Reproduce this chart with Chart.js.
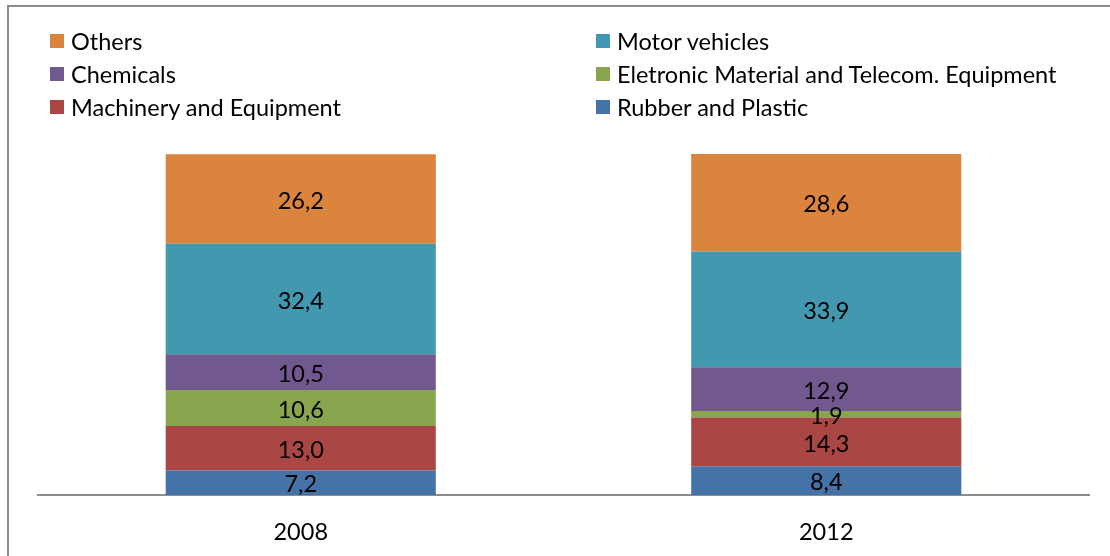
<!DOCTYPE html>
<html>
<head>
<meta charset="utf-8">
<script src="https://cdn.jsdelivr.net/npm/chart.js@4"></script>
<style>
  body { margin: 0; background: #fff; }
  #wrap { position: relative; width: 1110px; height: 556px; overflow: hidden; font-family: Lato, sans-serif; }
  #frame { position: absolute; left: 7px; top: 5px; width: 1200px; height: 700px; border-left: 2px solid #8c8c8c; border-top: 2px solid #8c8c8c; }
  #chartBox { position: absolute; left: 0; top: 0; width: 1110px; height: 556px; }
  #legend { position: absolute; left: 50px; top: 24px; display: grid; grid-template-columns: 546px 460px; grid-auto-rows: 33.3px; }
  .item { display: flex; align-items: center; font-size: 23.5px; color: #000; white-space: nowrap; }
  .sw { width: 14px; height: 14px; margin-right: 7px; flex: none; }
</style>
</head>
<body>
<div id="wrap">
  <div id="frame"></div>
  <div id="chartBox"><canvas id="chart"></canvas></div>
  <div id="legend"></div>
</div>
<script>
const years = ["2008", "2012"];

// stacked from the bottom up
const seriesNames = [
  "Rubber and Plastic",
  "Machinery and Equipment",
  "Eletronic Material and Telecom. Equipment",
  "Chemicals",
  "Motor vehicles",
  "Others"
];
const rubber = [7.2, 8.4];
const machinery = [13.0, 14.3];
const electronic = [10.6, 1.9];
const chemicals = [10.5, 12.9];
const motor = [32.4, 33.9];
const others = [26.2, 28.6];

const colors = ["#4572A7", "#AA4643", "#89A54E", "#71588F", "#4198AF", "#DB843D"];
const values = [rubber, machinery, electronic, chemicals, motor, others];

const FONT = "Lato, sans-serif";

// value labels in the middle of each segment, decimal comma
const segmentLabels = {
  id: "segmentLabels",
  afterDatasetsDraw(chart) {
    const ctx = chart.ctx;
    ctx.save();
    ctx.font = "23.5px " + FONT;
    ctx.fillStyle = "#000";
    ctx.textAlign = "center";
    ctx.textBaseline = "middle";
    chart.data.datasets.forEach((ds, i) => {
      chart.getDatasetMeta(i).data.forEach((bar, j) => {
        const txt = ds.data[j].toFixed(1).replace(".", ",");
        ctx.fillText(txt, bar.x, (bar.y + bar.base) / 2 + 2);
      });
    });
    ctx.restore();
  }
};

const chart = new Chart(document.getElementById("chart"), {
  type: "bar",
  data: {
    labels: years,
    datasets: seriesNames.map((name, i) => ({
      label: name,
      data: values[i],
      backgroundColor: colors[i],
      borderWidth: 0,
      categoryPercentage: 1,
      barPercentage: 0.514
    }))
  },
  options: {
    responsive: true,
    maintainAspectRatio: false,
    animation: false,
    layout: { padding: { left: 38, right: 21, top: 154, bottom: 0 } },
    plugins: { legend: { display: false }, tooltip: { enabled: false } },
    scales: {
      x: {
        stacked: true,
        grid: { display: false, drawTicks: false },
        border: { display: true, color: "#8c8c8c", width: 2 },
        ticks: { color: "#000", font: { family: FONT, size: 23.5 }, padding: 23 },
        afterFit: (scale) => { scale.height = 61; }
      },
      y: { stacked: true, display: false, min: 0, max: 100 }
    }
  },
  plugins: [segmentLabels]
});

// legend: reversed order, two columns
const legend = document.getElementById("legend");
for (let i = seriesNames.length - 1; i >= 0; i--) {
  const item = document.createElement("div");
  item.className = "item";
  item.innerHTML = `<span class="sw" style="background:${colors[i]}"></span><span>${seriesNames[i]}</span>`;
  legend.appendChild(item);
}
</script>
</body>
</html>
